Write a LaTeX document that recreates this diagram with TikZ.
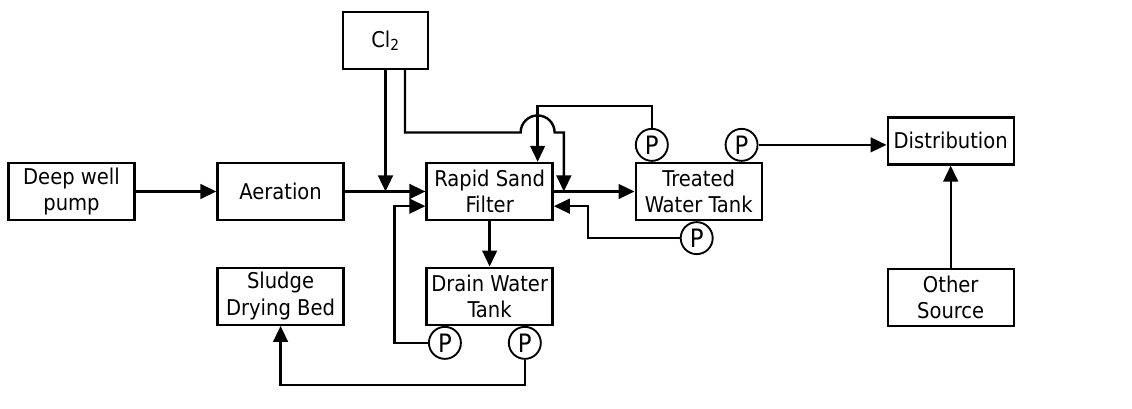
\documentclass[tikz,border=0pt]{standalone}
\usepackage{fontspec}
\setmainfont{DejaVu Sans Condensed}
\usetikzlibrary{arrows.meta, positioning}

\begin{document}
\begin{tikzpicture}[x=0.75pt, y=-0.75pt, node distance=34pt and 60.5pt,
    every node/.style={font=\fontsize{16.3}{20}\selectfont},
    unit/.style={rectangle, draw, line width=1.8pt, minimum width=94.5pt, minimum height=42.75pt, inner sep=1pt, align=center},
    pump/.style={circle, draw, line width=1.4pt, minimum size=24pt, inner sep=0pt, font=\fontsize{19}{19}\selectfont},
    flow/.style={line width=1.8pt, -{Triangle[length=12pt, width=11pt]}}]
    \useasboundingbox (0,0) rectangle (1132,409);

    \node[unit] (well) at (71.5,191.5) {Deep well\\pump};
    \node[unit, right=of well] (aer) {Aeration};
    \node[unit, right=of aer] (rsf) {Rapid Sand\\Filter};
    \node[unit, right=of rsf] (trt) {Treated\\Water Tank};
    \node[unit, below=of aer] (sludge) {Sludge\\Drying Bed};
    \node[unit, below=of rsf] (drain) {Drain Water\\Tank};
    \node[unit, minimum width=63.75pt] (cl2) at (385.5,40.5) {Cl\textsubscript{2}};

    \node[pump, above=0pt of trt.north west, xshift=13pt] (pBack) {P};
    \node[pump, above=0pt of trt.north east, xshift=-16pt] (pOut) {P};
    \node[pump, below=0pt of trt.south, xshift=-1.5pt] (pRet) {P};
    \node[pump, below=0pt of drain.south west, xshift=14.6pt] (pWash) {P};
    \node[pump, below=0pt of drain.south east, xshift=-21.75pt] (pSludge) {P};

    \node[unit, minimum height=35.25pt, right=96pt of pOut, yshift=3pt] (dist) {Distribution};
    \node[unit, below=76.5pt of dist] (other) {Other\\Source};

    % bends of the pipes
    \coordinate (bwTop) at ([yshift=16.5pt]pBack.north);
    \coordinate (bwIn) at ([xshift=36pt]rsf.north);
    \coordinate (clY) at ([yshift=22pt]rsf.north);
    \path (bwIn |- clY) coordinate (jmpC);
    \coordinate (jmpL) at ([xshift=-12.75pt]jmpC);
    \coordinate (clIn) at ([xshift=7.5pt]rsf.east);
    \coordinate (retUp) at ([xshift=25.5pt, yshift=-11pt]rsf.east);
    \coordinate (washUp) at ([xshift=-23.25pt, yshift=-11pt]rsf.west);
    \coordinate (sdBot) at ([yshift=-18.75pt]pSludge.south);

    \draw[flow] (well) -- (aer);
    \draw[flow] (aer) -- (rsf);
    \draw[flow] (cl2.south) -- (cl2.south |- rsf.west);
    \draw[flow] ([xshift=14.6pt]cl2.south) |- (jmpL) arc[start angle=180, end angle=0, radius=12.75pt] -| (clIn);
    \draw[flow] (pBack.north) -- (bwTop) -| (bwIn);
    \draw[flow] (rsf) -- (trt);
    \draw[flow] (pRet.west) -| (retUp) -- (retUp -| rsf.east);
    \draw[flow] (rsf) -- (drain);
    \draw[flow] (pWash.west) -| (washUp) -- (washUp -| rsf.west);
    \draw[flow] (pSludge.south) -- (sdBot) -| (sludge.south);
    \draw[flow] (pOut) -- (pOut -| dist.west);
    \draw[flow] (other) -- (dist);
\end{tikzpicture}
\end{document}
